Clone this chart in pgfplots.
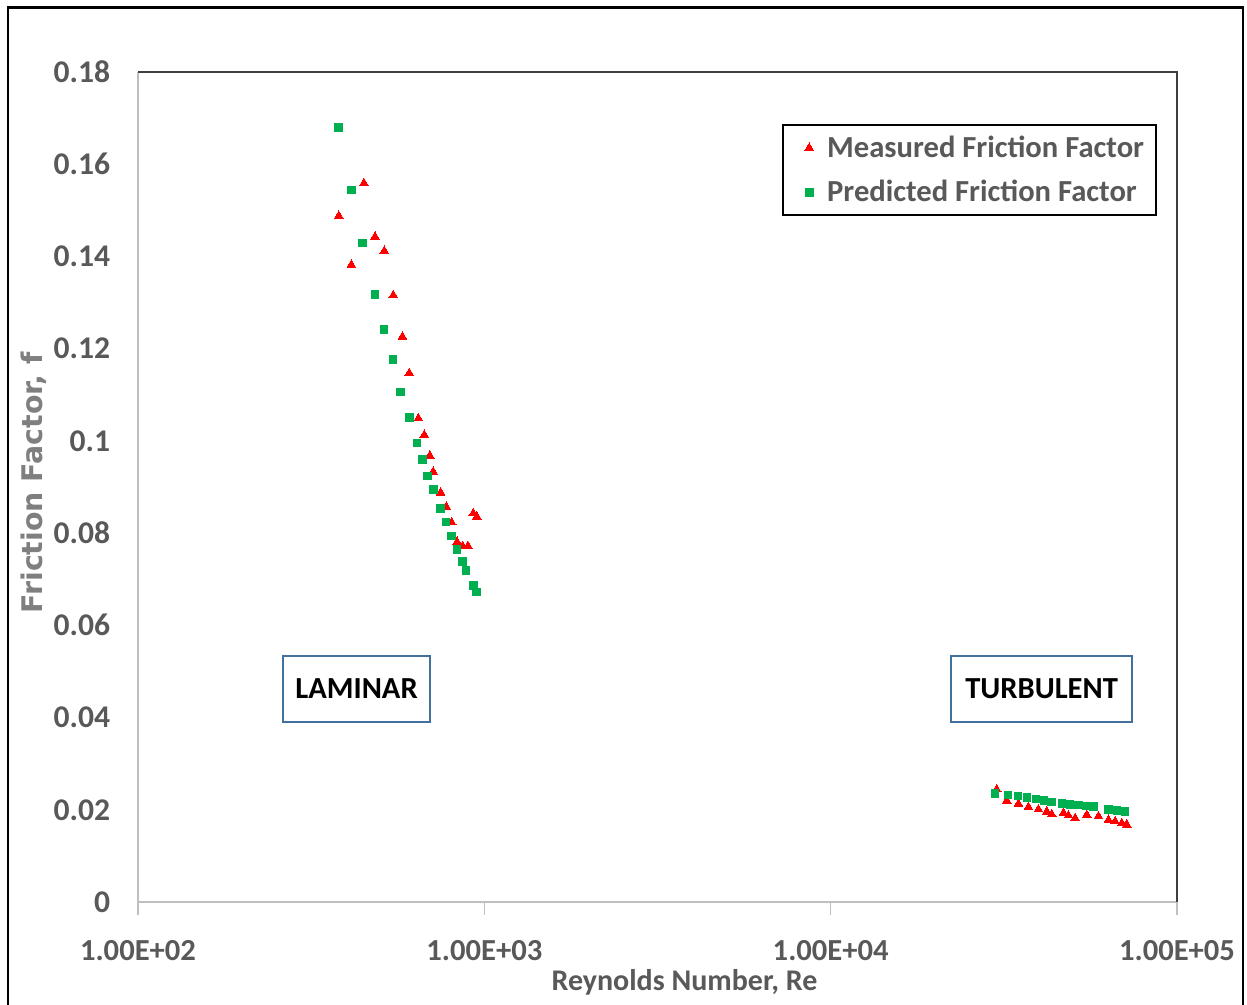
\documentclass[border=0pt]{standalone}
\usepackage{pgfplots}
\pgfplotsset{compat=1.18}
\usepackage{fontspec}
\setmainfont{Carlito}
\newfontfamily\dejavu{DejaVu Sans}
\definecolor{tickgray}{HTML}{595959}
\definecolor{labgray}{HTML}{7F7F7F}
\definecolor{mred}{HTML}{FF0000}
\definecolor{pgreen}{HTML}{00B050}
\definecolor{boxblue}{RGB}{65,113,156}
\definecolor{axgray}{HTML}{BFBFBF}
\definecolor{frdark}{HTML}{404040}
\begin{document}
\begin{tikzpicture}
\path[use as bounding box] (0,0) rectangle (623.5pt,502.5pt);
\draw[black, line width=1.2pt] (4pt,-5pt) -- (4pt,498.7pt) -- (621.5pt,498.7pt) -- (621.5pt,-5pt);
\begin{axis}[
  at={(69pt,51.5pt)}, anchor=south west, scale only axis,
  width=519.5pt, height=415pt,
  xmode=log, xmin=100, xmax=100000, ymin=0, ymax=0.18,
  axis line style={draw=none},
  xtick={100,1000,10000,100000},
  xticklabels={1.00E+02,1.00E+03,1.00E+04,1.00E+05},
  xminorticks=false, yminorticks=false,
  ytick={0,0.02,0.04,0.06,0.08,0.1,0.12,0.14,0.16,0.18},
  yticklabels={0,0.02,0.04,0.06,0.08,0.1,0.12,0.14,0.16,0.18},
  xtick pos=bottom, ytick pos=left,
  tick align=outside, major tick length=6.5pt,
  xtick style={color=axgray, line width=0.8pt},
  ytick style={draw=none},
  xticklabel style={font=\fontsize{15.3}{18}\selectfont\bfseries, text=tickgray, yshift=-9pt},
  yticklabel style={font=\fontsize{15.8}{18}\selectfont\bfseries, text=tickgray, xshift=-4pt},
  xlabel={Reynolds Number, Re},
  xlabel style={at={(axis description cs:0.526,-0.0964)}, anchor=center, font=\fontsize{15}{18}\selectfont\bfseries, text=tickgray},
  ylabel={Friction Factor, f},
  ylabel style={at={(axis description cs:-0.1,0.505)}, anchor=center, rotate=0, font=\dejavu\fontsize{14.2}{17}\selectfont\bfseries, text=labgray},
  legend style={at={(rel axis cs:0.9808,0.9373)}, anchor=north east, draw=black, line width=1pt,
    font=\fontsize{15.3}{18}\selectfont\bfseries, text=tickgray, inner xsep=4pt, inner ysep=3.3pt, row sep=6pt},
  legend image code/.code={\path[draw=none,fill=none] (-4pt,-2pt) rectangle (12pt,2pt); \draw[#1] plot coordinates {(5pt,0pt)};},
  legend cell align=left,
  clip=false,
]
\draw[axgray, line width=0.8pt] (rel axis cs:0,1) -- (rel axis cs:0,0) -- (rel axis cs:1,0);
\draw[frdark, line width=1pt] (rel axis cs:0,1) -- (rel axis cs:1,1) -- (rel axis cs:1,0);
\addplot[only marks, mark=triangle*, mark size=2.5pt, color=mred, mark options={line width=0pt}] coordinates {
(380,0.1488) (413,0.1382) (449,0.1559) (483.5,0.1443) (514,0.1412) (546,0.1316)
(580,0.1226) (607,0.1147) (645,0.1049) (671,0.1013) (696,0.0968) (712,0.0933)
(748,0.0888) (777,0.0857) (805,0.0823) (834,0.0781) (866,0.0772) (897,0.0772)
(929,0.0843) (951,0.0836)
(30170,0.0244) (32250,0.0220) (34840,0.0213) (37230,0.0206) (39800,0.0201)
(42070,0.0196) (43490,0.0190) (46990,0.0193) (48570,0.0188) (50790,0.0182)
(54880,0.0189) (59320,0.0186) (63380,0.0178) (66270,0.0175) (69280,0.0171)
(71610,0.0168)
};
\addlegendentry{Measured Friction Factor}
\addplot[only marks, mark=square*, mark size=1.9pt, color=pgreen, mark options={line width=0pt}] coordinates {
(380,0.1680) (413,0.1544) (444,0.1429) (483.5,0.1318) (513,0.1242) (545,0.1176)
(572,0.1106) (609,0.1051) (639,0.0995) (662,0.0960) (686.5,0.0924) (712,0.0894)
(748,0.0854) (775,0.0824) (805,0.0794) (834,0.0764) (866,0.0738) (885,0.0719)
(929,0.0687) (951,0.0672)
(29830,0.02357) (32470,0.0232) (34700,0.0230) (36840,0.0227) (39190,0.0223)
(41330,0.0220) (43490,0.0217) (46490,0.0214) (49120,0.0212) (51920,0.0210)
(54880,0.0208) (57350,0.0207) (63380,0.0201) (67020,0.0198) (70830,0.0196)
};
\addlegendentry{Predicted Friction Factor}
\node[draw=boxblue, line width=0.9pt, minimum width=73.5pt, minimum height=33pt, inner sep=0pt,
  font=\fontsize{15.3}{18}\selectfont\bfseries, text=black] at (axis cs:427.6,0.0462) {LAMINAR};
\node[draw=boxblue, line width=0.9pt, minimum width=90.5pt, minimum height=33pt, inner sep=0pt,
  font=\fontsize{15.3}{18}\selectfont\bfseries, text=black] at (axis cs:40640,0.0462) {TURBULENT};
\end{axis}
\end{tikzpicture}
\end{document}
